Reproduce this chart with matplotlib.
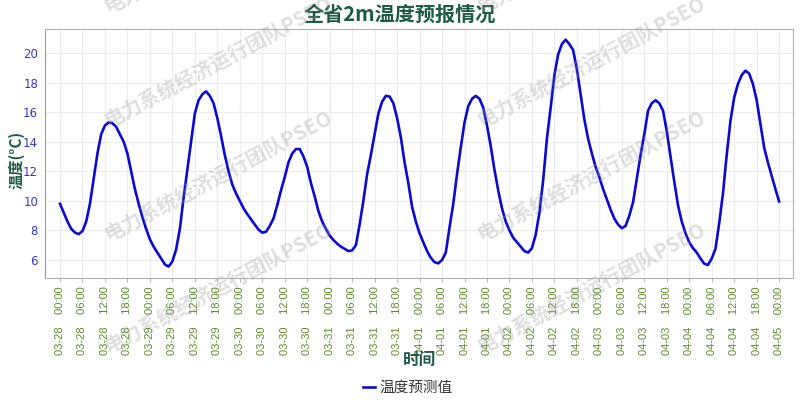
import numpy as np
import pandas as pd
import matplotlib
matplotlib.use('Agg')
import matplotlib.pyplot as plt

plt.rcParams['font.family'] = ['Noto Sans CJK SC', 'DejaVu Sans']
plt.rcParams['axes.unicode_minus'] = False

TITLE = '全省2m温度预报情况'
WATERMARK = '电力系统经济运行团队PSEO'

# 逐小时温度预测 (03-28 00:00 ~ 04-05 00:00)
start_time = '2024-03-28 00:00'
temp_day1 = [9.8, 9.2, 8.6, 8.1, 7.85, 7.75, 7.95, 8.6, 9.8, 11.5, 13.2, 14.5,
             15.1, 15.3, 15.25, 15.0, 14.5, 14.0, 13.2, 12.0, 10.8, 9.8, 8.9, 8.1]
temp_day2 = [7.4, 6.9, 6.5, 6.1, 5.7, 5.55, 5.9, 6.7, 8.1, 10.2, 12.1, 14.0,
             15.9, 16.8, 17.2, 17.4, 17.1, 16.6, 15.6, 14.4, 13.1, 12.0, 11.1, 10.5]
temp_day3 = [10.0, 9.5, 9.1, 8.75, 8.4, 8.05, 7.85, 7.9, 8.3, 8.8, 9.7, 10.7,
             11.6, 12.6, 13.2, 13.5, 13.5, 13.0, 12.3, 11.2, 10.3, 9.3, 8.6, 8.1]
temp_day4 = [7.65, 7.35, 7.1, 6.9, 6.75, 6.6, 6.65, 7.0, 8.4, 10.0, 11.8, 13.1,
             14.5, 15.9, 16.7, 17.1, 17.05, 16.6, 15.6, 14.3, 12.6, 11.2, 9.6, 8.6]
temp_day5 = [7.8, 7.2, 6.6, 6.15, 5.85, 5.77, 6.0, 6.5, 8.2, 9.8, 11.8, 13.6,
             15.3, 16.4, 16.9, 17.1, 16.9, 16.3, 15.1, 13.7, 12.1, 10.7, 9.5, 8.6]
temp_day6 = [8.0, 7.5, 7.2, 6.9, 6.6, 6.5, 6.8, 7.7, 9.2, 11.4, 14.2, 16.3,
             18.5, 19.9, 20.6, 20.9, 20.6, 20.2, 18.9, 17.2, 15.5, 14.2, 13.2, 12.3]
temp_day7 = [11.6, 10.8, 10.1, 9.4, 8.8, 8.4, 8.15, 8.3, 9.0, 9.9, 11.5, 13.1,
             14.5, 16.1, 16.6, 16.8, 16.6, 16.1, 14.7, 13.0, 11.3, 9.7, 8.6, 7.8]
temp_day8 = [7.2, 6.8, 6.5, 6.1, 5.75, 5.66, 6.1, 6.75, 8.5, 10.5, 13.1, 15.4,
             17.0, 17.9, 18.5, 18.8, 18.6, 17.9, 16.8, 15.2, 13.6, 12.6, 11.7, 10.8,
             9.95]

temps = (temp_day1 + temp_day2 + temp_day3 + temp_day4 +
         temp_day5 + temp_day6 + temp_day7 + temp_day8)
times = pd.date_range(start_time, periods=len(temps), freq='h')

title_color = '#1d5a48'
fig = plt.figure(figsize=(8, 4), dpi=100)
ax = fig.add_axes([0.05625, 0.305, 0.935, 0.6225])

line, = ax.plot(times, temps, color='#0a0ad2', lw=1.9, label='温度预测值', zorder=3)

# 坐标轴范围
ax.set_xlim(times[0] - pd.Timedelta(hours=4), times[-1] + pd.Timedelta(hours=3.7))
ax.set_ylim(4.78, 21.62)
ax.set_yticks(np.arange(6, 21, 2))

tick_times = pd.date_range(times[0], times[-1], freq='6h')
ax.set_xticks(tick_times)
ax.set_xticklabels([t.strftime('%m-%d    %H:%M') for t in tick_times],
                   rotation=90, fontsize=8, color='#5f8a2c', family='Liberation Sans')
for lab in ax.get_yticklabels():
    lab.set_fontsize(8.5)
    lab.set_color('#3535d5')
    lab.set_family('DejaVu Sans')
ax.tick_params(axis='x', length=3, color='#bbbbbb', pad=3)
ax.tick_params(axis='y', length=0, pad=5)

# 网格
ax.grid(True, color='#ececec', lw=0.8, zorder=0)
for day in pd.date_range(times[0], times[-1], freq='D'):
    ax.axvline(day, color='#bdbdbd', lw=0.8, ls=(0, (4, 3)), zorder=1)

for side in ['top', 'right', 'bottom', 'left']:
    ax.spines[side].set_color('#b0b0b0')
ax.spines['left'].set_color('#999999')

fig.text(0.5, 0.965, TITLE, ha='center', va='center', fontsize=14.5,
         fontweight='bold', color=title_color)
fig.text(0.02, 0.6, '温度(°C)', rotation=90, ha='center', va='center',
         fontsize=11, fontweight='bold', color=title_color)
fig.text(0.524, 0.1, '时间', ha='center', va='center', fontsize=12,
         fontweight='bold', color=title_color)

fig.legend(handles=[line], loc='center', bbox_to_anchor=(0.51, 0.03), frameon=False,
           fontsize=10.5, handlelength=0.8, handletextpad=0.3, labelcolor='#333333')

# 水印
for x0 in [0.1375, 0.604]:
    for y0 in [0.96, 0.675, 0.39, 0.11]:
        fig.text(x0, y0, WATERMARK, rotation=28, rotation_mode='anchor',
                 ha='left', va='bottom', fontsize=14.5, fontweight='bold',
                 color='#9a9a9a', alpha=0.32, zorder=10)

fig.savefig('out.png', dpi=100)
